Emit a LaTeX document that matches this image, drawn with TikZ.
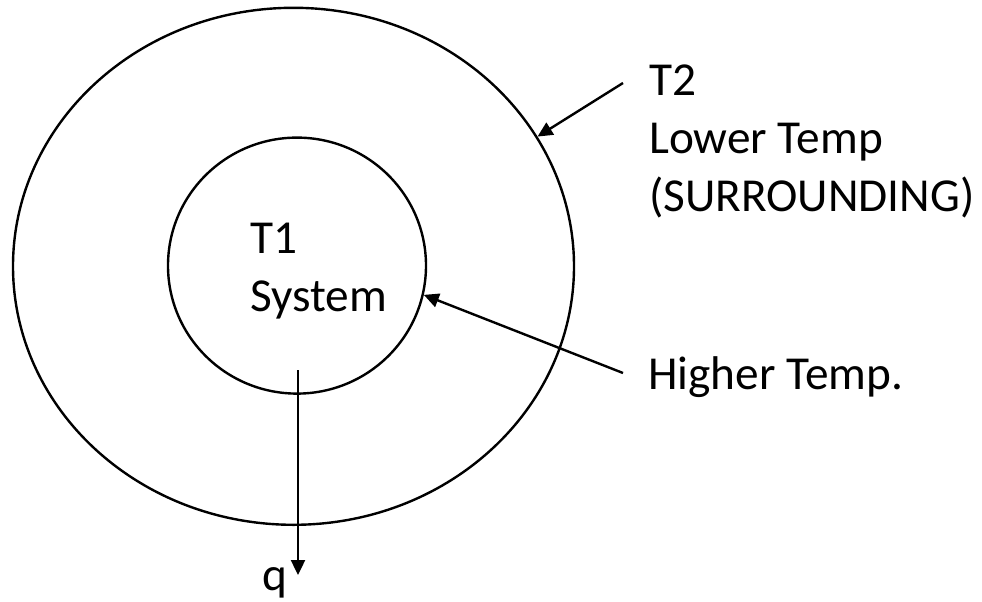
\documentclass[tikz,border=0pt]{standalone}
\usepackage{fontspec}
\setmainfont{Carlito}
\usetikzlibrary{positioning, arrows.meta, shapes.geometric}

\begin{document}
\begin{tikzpicture}[x=1pt, y=-1pt, line width=2.4pt,
    every node/.style={font=\fontsize{47.3}{58}\selectfont},
    ring/.style={draw, ellipse, inner sep=0pt},
    lbl/.style={anchor=base west, align=left, inner sep=0pt},
    tip/.style={-{Triangle[length=15pt, width=14pt]}}]
      \useasboundingbox (0,0) rectangle (982,602);
      % the two regions
      \node[ring, minimum width=561pt, minimum height=517pt] (surr) at (293.5,266.3) {};
      \node[ring, minimum width=258pt, minimum height=256pt] (sys) at (297,265.6) {};
      % labels (base = last line)
      \node[lbl] (t1) at (249,311) {T1\\System};
      \node[lbl] (t2) at (648,211.7) {T2\\Lower Temp\\(SURROUNDING)};
      \node[lbl] (hi) at (647,389.3) {Higher Temp.};
      \node[lbl] (q) at (261,590) {q};
      \coordinate (t2from) at (623,83);
      \coordinate (hifrom) at (623,373);
      \coordinate (qfrom) at (298,370);
      \coordinate (qto) at (298,575);
      % arrows
      \draw[tip] (t2from) -- (surr.28);
      \draw[tip] (hifrom) -- (sys.-13);
      \draw[tip] (qfrom) -- (qto);
\end{tikzpicture}
\end{document}
